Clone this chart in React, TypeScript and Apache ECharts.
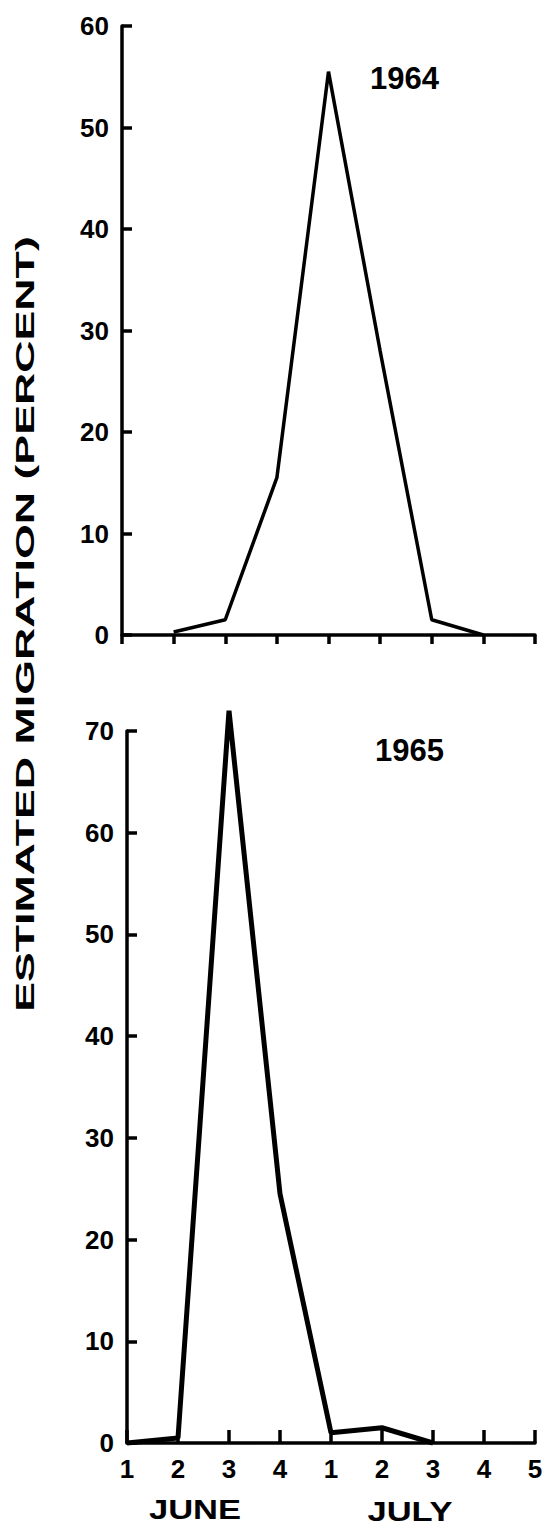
import React, { useEffect, useRef } from "react";
import * as echarts from "echarts";

const weekLabels = ["1", "2", "3", "4", "1", "2", "3", "4", "5"];
const monthLabels = ["JUNE", "JULY"];
const yearLabels = ["1964", "1965"];
const migration1964: (number | null)[] = [null, 0.3, 1.5, 15.5, 55.5, 28, 1.5, 0, null];
const migration1965: (number | null)[] = [0, 0.5, 72, 24.5, 1, 1.5, 0, null, null];
const yMax = [60, 70];
const yStep = 10;
const yTitle = "ESTIMATED MIGRATION (PERCENT)";

export default function App() {
  const ref = useRef<HTMLDivElement>(null);
  useEffect(() => {
    const chart = echarts.init(ref.current!, null, { renderer: "svg" });
    const font = "'Liberation Sans', Arial, sans-serif";
    const pts = (arr: (number | null)[]) => arr.map((v, i) => [i, v === null ? "-" : v]);
    const lineSt = { color: "#000", width: 3.5 };
    const xBase = (gi: number, inside: boolean, showLabel: boolean) => ({
      type: "value",
      gridIndex: gi,
      min: 0,
      max: weekLabels.length - 1,
      interval: 1,
      axisLine: { show: true, lineStyle: lineSt },
      axisTick: { show: true, inside, length: inside ? 13 : 9, lineStyle: lineSt },
      splitLine: { show: false },
      axisLabel: {
        show: showLabel,
        margin: 13,
        fontSize: 26,
        fontWeight: "bold",
        fontFamily: font,
        color: "#000",
        formatter: (v: number) => weekLabels[Math.round(v)] ?? "",
      },
    });
    const yBase = (gi: number, max: number) => ({
      type: "value",
      gridIndex: gi,
      min: 0,
      max,
      interval: yStep,
      axisLine: { show: true, lineStyle: lineSt },
      axisTick: { show: true, inside: true, length: 10, lineStyle: lineSt },
      splitLine: { show: false },
      axisLabel: {
        margin: 13,
        fontSize: 26,
        fontWeight: "bold",
        fontFamily: font,
        color: "#000",
      },
    });
    chart.setOption({
      animation: false,
      backgroundColor: "#fff",
      grid: [
        { left: 122, top: 26, width: 413, height: 609 },
        { left: 127, top: 731, width: 408, height: 712 },
      ],
      xAxis: [xBase(0, false, false), xBase(1, true, true)],
      yAxis: [yBase(0, yMax[0]), yBase(1, yMax[1])],
      series: [
        {
          type: "line",
          xAxisIndex: 0,
          yAxisIndex: 0,
          data: pts(migration1964),
          showSymbol: false,
          clip: false,
          lineStyle: { color: "#000", width: 3.5 },
          itemStyle: { color: "#000" },
        },
        {
          type: "line",
          xAxisIndex: 1,
          yAxisIndex: 1,
          data: pts(migration1965),
          showSymbol: false,
          clip: false,
          lineStyle: { color: "#000", width: 5 },
          itemStyle: { color: "#000" },
        },
      ],
      graphic: [
        {
          type: "text",
          x: 370,
          y: 78,
          style: { text: yearLabels[0], fontSize: 31, fontWeight: "bold", fontFamily: font, fill: "#000", align: "left", verticalAlign: "middle" },
        },
        {
          type: "text",
          x: 375,
          y: 750,
          style: { text: yearLabels[1], fontSize: 31, fontWeight: "bold", fontFamily: font, fill: "#000", align: "left", verticalAlign: "middle" },
        },
        {
          type: "text",
          x: 25,
          y: 624,
          rotation: Math.PI / 2,
          scaleX: 1.72,
          style: { text: yTitle, fontSize: 26, fontWeight: "bold", fontFamily: font, fill: "#000", align: "center", verticalAlign: "middle" },
        },
        {
          type: "text",
          x: 195,
          y: 1510,
          scaleX: 1.28,
          style: { text: monthLabels[0], fontSize: 27, fontWeight: "bold", fontFamily: font, fill: "#000", align: "center", verticalAlign: "middle" },
        },
        {
          type: "text",
          x: 410,
          y: 1512,
          scaleX: 1.28,
          style: { text: monthLabels[1], fontSize: 27, fontWeight: "bold", fontFamily: font, fill: "#000", align: "center", verticalAlign: "middle" },
        },
      ],
    });
    return () => chart.dispose();
  }, []);
  return (
    <div
      ref={ref}
      style={{ position: "fixed", left: 0, top: 0, width: 549, height: 1529, background: "#fff" }}
    />
  );
}
